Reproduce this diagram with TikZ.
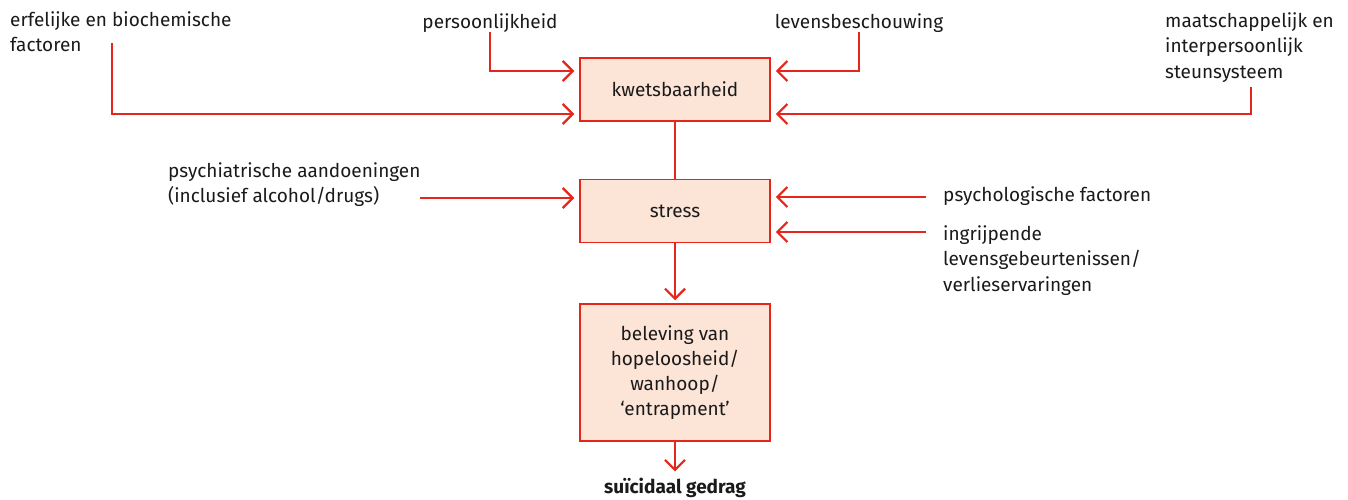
\documentclass[tikz,border=0pt]{standalone}
\usepackage{fontspec}
\setmainfont{Fira Sans}
\usetikzlibrary{arrows.meta, positioning}
\definecolor{riskred}{HTML}{E5261B}
\definecolor{riskfill}{HTML}{FCE4D7}
\definecolor{inktext}{HTML}{1A1A1A}
\tikzset{
  stage/.style={rectangle, minimum width=190pt, minimum height=63pt, text centered, align=center, draw=riskred, line width=1.5pt, fill=riskfill, text=inktext, font=\fontsize{19}{25}\selectfont},
  factor/.style={inner sep=0pt, align=left, text=inktext, font=\fontsize{19}{25.5}\selectfont},
  arrow/.style={riskred, line width=2.2pt, -{Straight Barb[length=10pt,width=20pt]}, shorten >=5pt},
  link/.style={riskred, line width=2.2pt}
}

\begin{document}
\begin{tikzpicture}[x=1pt, y=-1pt]
    \useasboundingbox (0,0) rectangle (1348,499);

    \node (kwets) [stage] at (675,89.5) {kwetsbaarheid};
    \node (stress) [stage, below=57pt of kwets] {stress};
    \node (hopeloos) [stage, minimum height=137pt, below=60pt of stress] {beleving van\\hopeloosheid/\\wanhoop/\\‘entrapment’};
    \node (gedrag) [factor, anchor=base, font=\fontsize{19}{25}\selectfont\bfseries] at (675,493) {suïcidaal gedrag};

    % factors around kwetsbaarheid
    \node (erfelijk) [factor, anchor=north west] at (10,11) {erfelijke en biochemische\\factoren};
    \node (persoon) [factor, anchor=base] at (490,28) {persoonlijkheid};
    \node (levens) [factor, anchor=base] at (859,28) {levensbeschouwing};
    \node (steun) [factor, anchor=north west] at (1165,12) {maatschappelijk en\\interpersoonlijk\\steunsysteem};

    % factors around stress
    \node (psychiat) [factor, anchor=north west] at (168,162) {psychiatrische aandoeningen\\(inclusief alcohol/drugs)};
    \node (psychol) [factor, anchor=base west] at (943,201) {psychologische factoren};
    \node (ingrijp) [factor, anchor=north west] at (943,225) {ingrijpende\\levensgebeurtenissen/\\verlieservaringen};

    % free ends of the connectors
    \coordinate (erfelijk-end) at (112,43);
    \coordinate (steun-end) at (1251,87);
    \coordinate (psychiat-end) at (420,198);
    \coordinate (psychol-end) at (926,197);
    \coordinate (ingrijp-end) at (926,232);

    % main chain
    \draw[link] (kwets) -- (stress);
    \draw[arrow, shorten >=3pt] (stress) -- (hopeloos);
    \draw[arrow, shorten >=6pt] (hopeloos) -- (gedrag);

    % into kwetsbaarheid
    \draw[arrow] (persoon.south) |- ([yshift=18.5pt]kwets.west);
    \draw[arrow] (erfelijk-end) |- ([yshift=-24.5pt]kwets.west);
    \draw[arrow] (levens.south) |- ([yshift=18.5pt]kwets.east);
    \draw[arrow] (steun-end) |- ([yshift=-24.5pt]kwets.east);

    % into stress
    \draw[arrow] (psychiat-end) -- (stress.west |- psychiat-end);
    \draw[arrow] (psychol-end) -- (stress.east |- psychol-end);
    \draw[arrow] (ingrijp-end) -- (stress.east |- ingrijp-end);
\end{tikzpicture}
\end{document}
